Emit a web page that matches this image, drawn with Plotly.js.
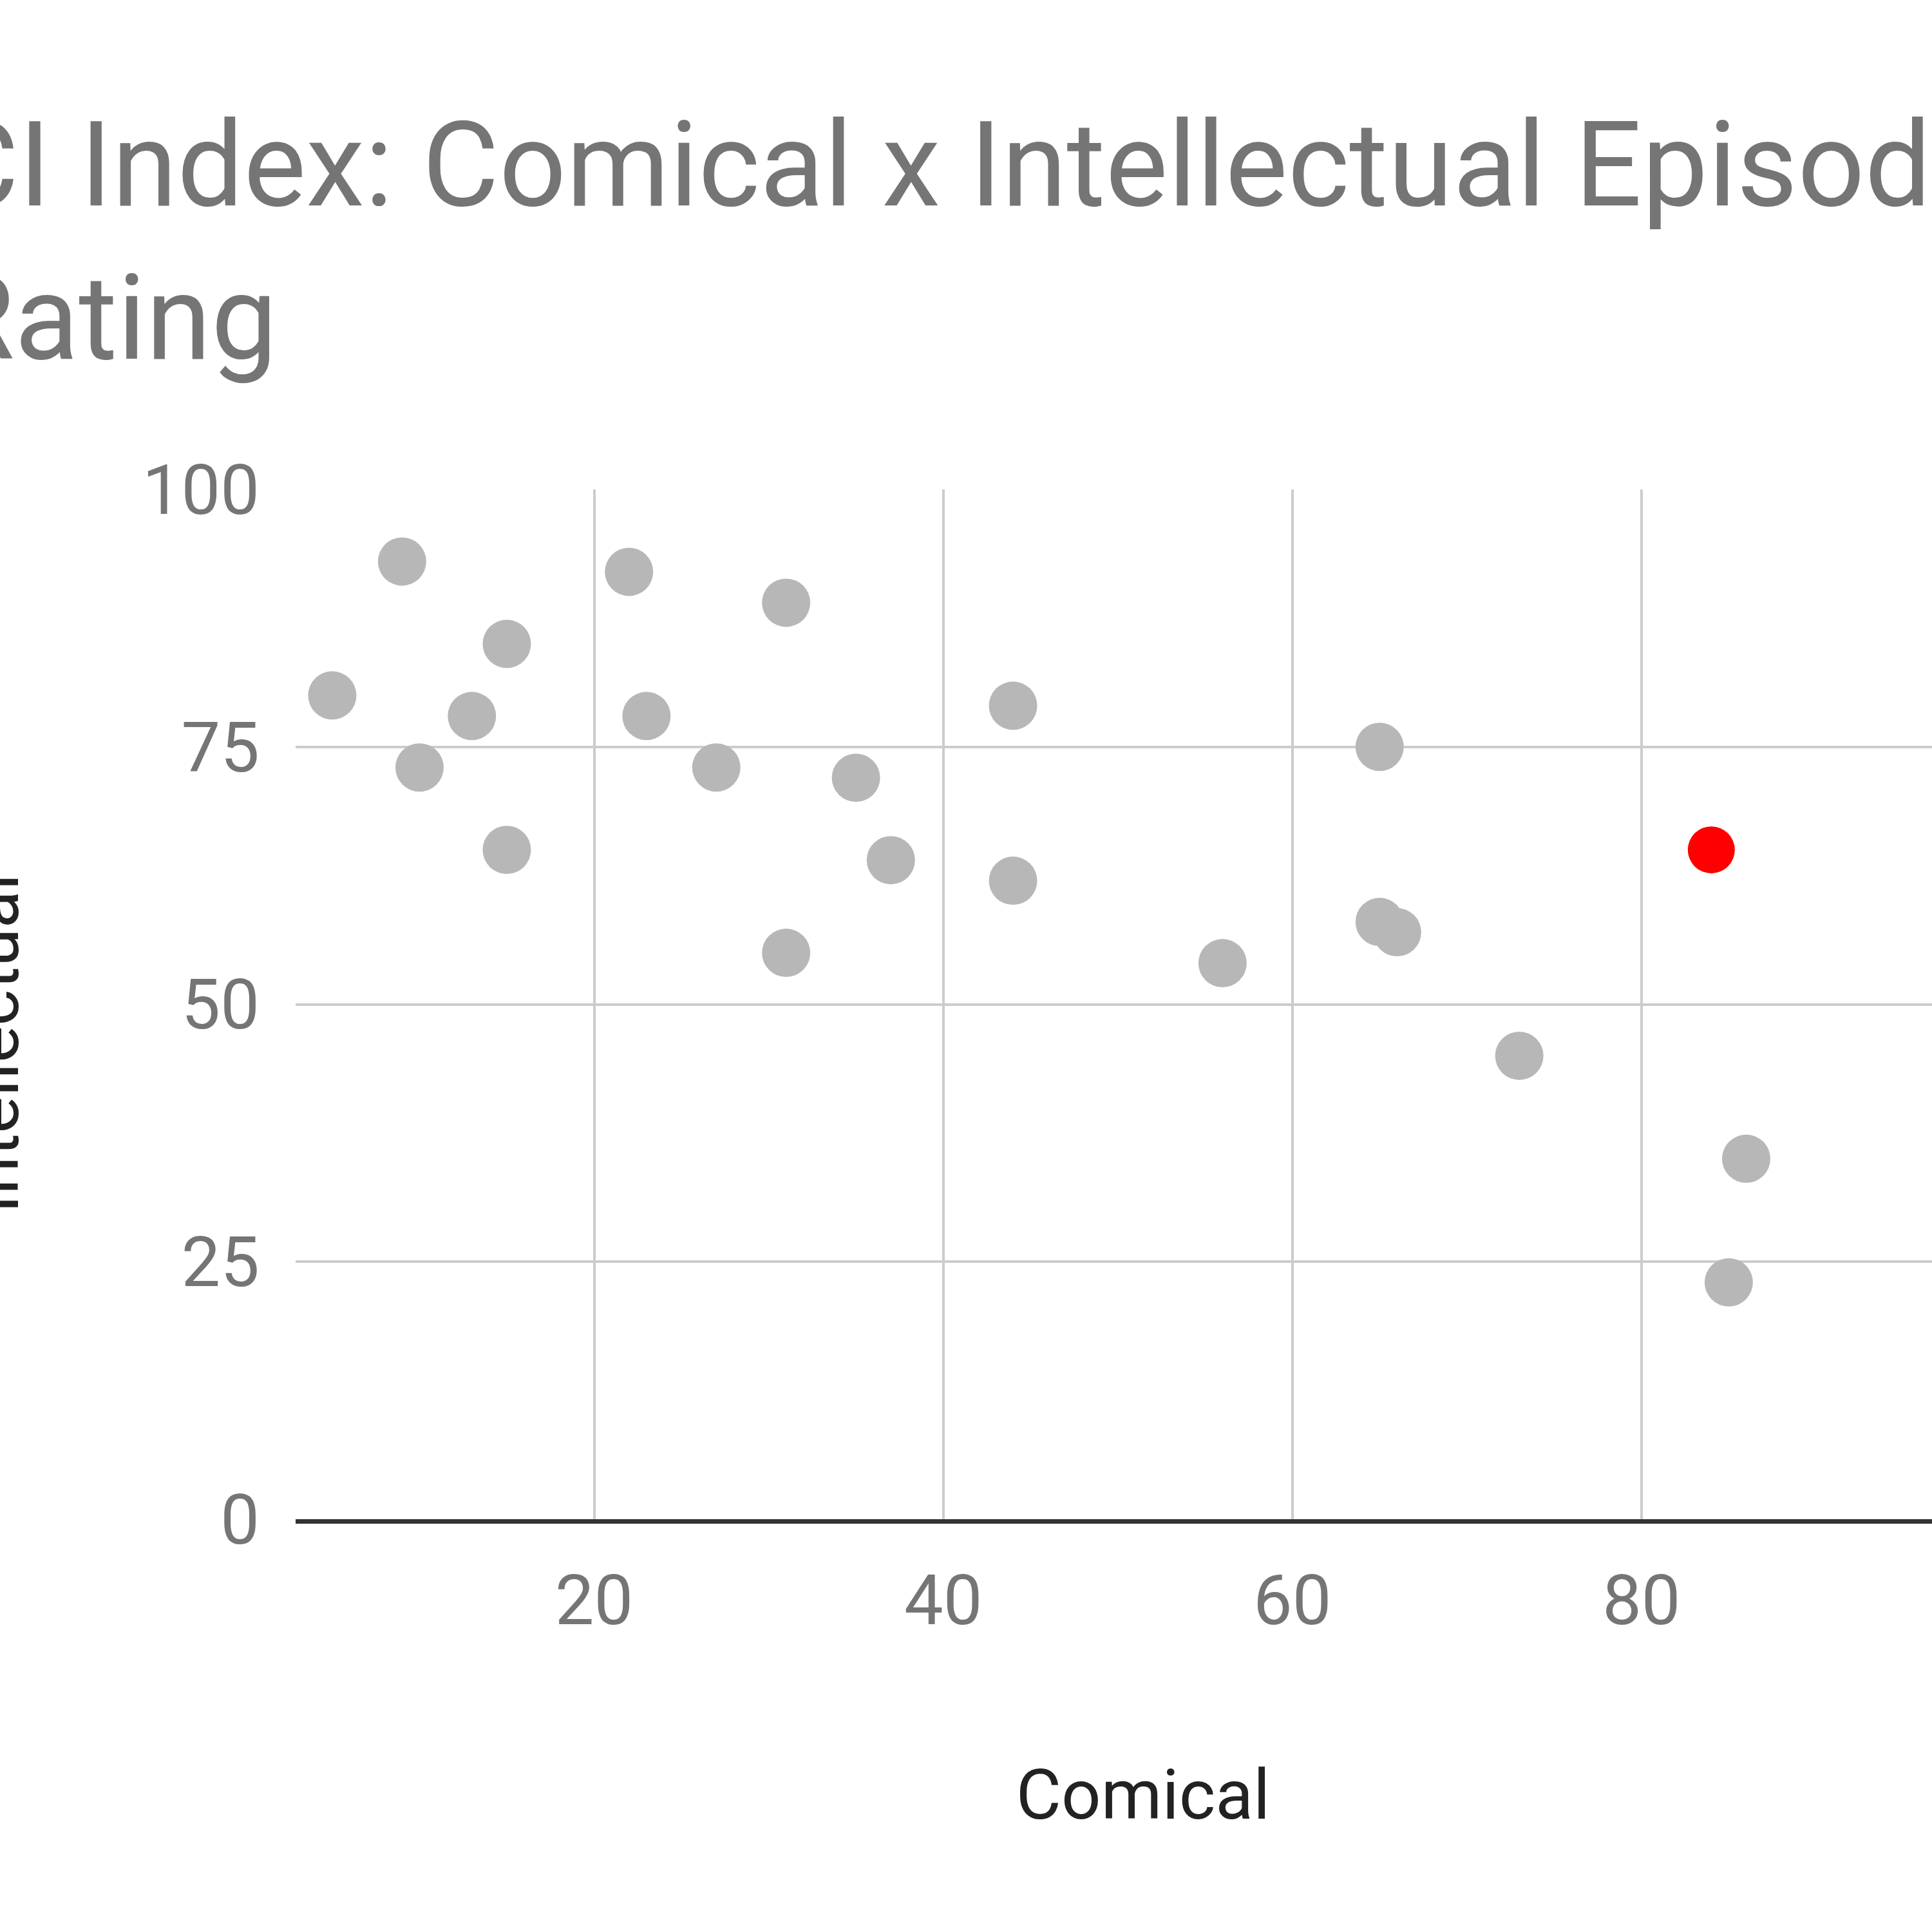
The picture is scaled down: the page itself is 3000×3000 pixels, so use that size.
<!DOCTYPE html>
<html>
<head>
<meta charset="utf-8">
<script src="https://cdn.plot.ly/plotly-3.0.1.min.js"></script>
<style>
  html, body { margin: 0; padding: 0; background: #ffffff; overflow: hidden; }
  #wrap { position: relative; width: 3000px; height: 3000px; overflow: hidden; background: #ffffff; }
  #chart { position: absolute; left: -300px; top: 0; width: 3500px; height: 3000px; }
</style>
</head>
<body>
<div id="wrap"><div id="chart"></div></div>
<script>
// Episode ratings
const comical      = [9, 5, 10, 13, 15, 15, 22, 23, 27, 31, 31, 35, 37, 44, 44, 56, 65, 65, 66, 73, 86, 85];
const intellectual = [93, 80, 73, 78, 85, 65, 92, 78, 73, 89, 55, 72, 64, 79, 62, 54, 75, 58, 57, 45, 35, 23];
// Highlighted episode
const highlightComical = [84];
const highlightIntellectual = [65];

const titleText = 'CI Index: Comical x Intellectual Episode<br>Rating';
const xTitle = 'Comical';
const yTitle = 'Intellectual';

const FONT = 'Roboto, "Noto Sans", sans-serif';

const traces = [
  {
    type: 'scatter', mode: 'markers',
    x: comical, y: intellectual,
    marker: { color: '#b7b7b7', size: 75, line: { width: 0 } },
    hoverinfo: 'x+y', showlegend: false
  },
  {
    type: 'scatter', mode: 'markers',
    x: highlightComical, y: highlightIntellectual,
    marker: { color: '#ff0000', size: 73, line: { width: 0 } },
    hoverinfo: 'x+y', showlegend: false
  }
];

const layout = {
  width: 3500, height: 3000,
  paper_bgcolor: '#ffffff', plot_bgcolor: '#ffffff',
  margin: { l: 759, r: 109, t: 760, b: 641, pad: 0 },
  font: { family: FONT, color: '#757575' },
  title: {
    text: titleText,
    font: { family: FONT, size: 183, color: '#757575' },
    xref: 'container', x: 210 / 3500, xanchor: 'left',
    yref: 'container', y: 1 - 319 / 3000, yanchor: 'top'
  },
  xaxis: {
    range: [2.9, 100],
    tick0: 0, dtick: 20,
    showgrid: true, gridcolor: '#cccccc', gridwidth: 4,
    zeroline: false,
    showline: true, linecolor: '#333333', linewidth: 7,
    ticks: '', ticklabelstandoff: 26,
    tickfont: { family: FONT, size: 108, color: '#757575' },
    title: { text: xTitle, font: { family: FONT, size: 108, color: '#222222' }, standoff: 204 }
  },
  yaxis: {
    range: [0, 100],
    tick0: 0, dtick: 25,
    showgrid: true, gridcolor: '#cccccc', gridwidth: 4,
    zeroline: false, showline: false,
    ticks: '', ticklabelstandoff: 55,
    tickfont: { family: FONT, size: 108, color: '#757575' }
  },
  annotations: [
    {
      text: yTitle, textangle: -90,
      xref: 'paper', yref: 'paper',
      x: -0.1778, y: 0.462, xanchor: 'center', yanchor: 'middle',
      showarrow: false,
      font: { family: FONT, size: 108, color: '#222222' }
    }
  ]
};

Plotly.newPlot('chart', traces, layout, { displayModeBar: false, staticPlot: true });
</script>
</body>
</html>
